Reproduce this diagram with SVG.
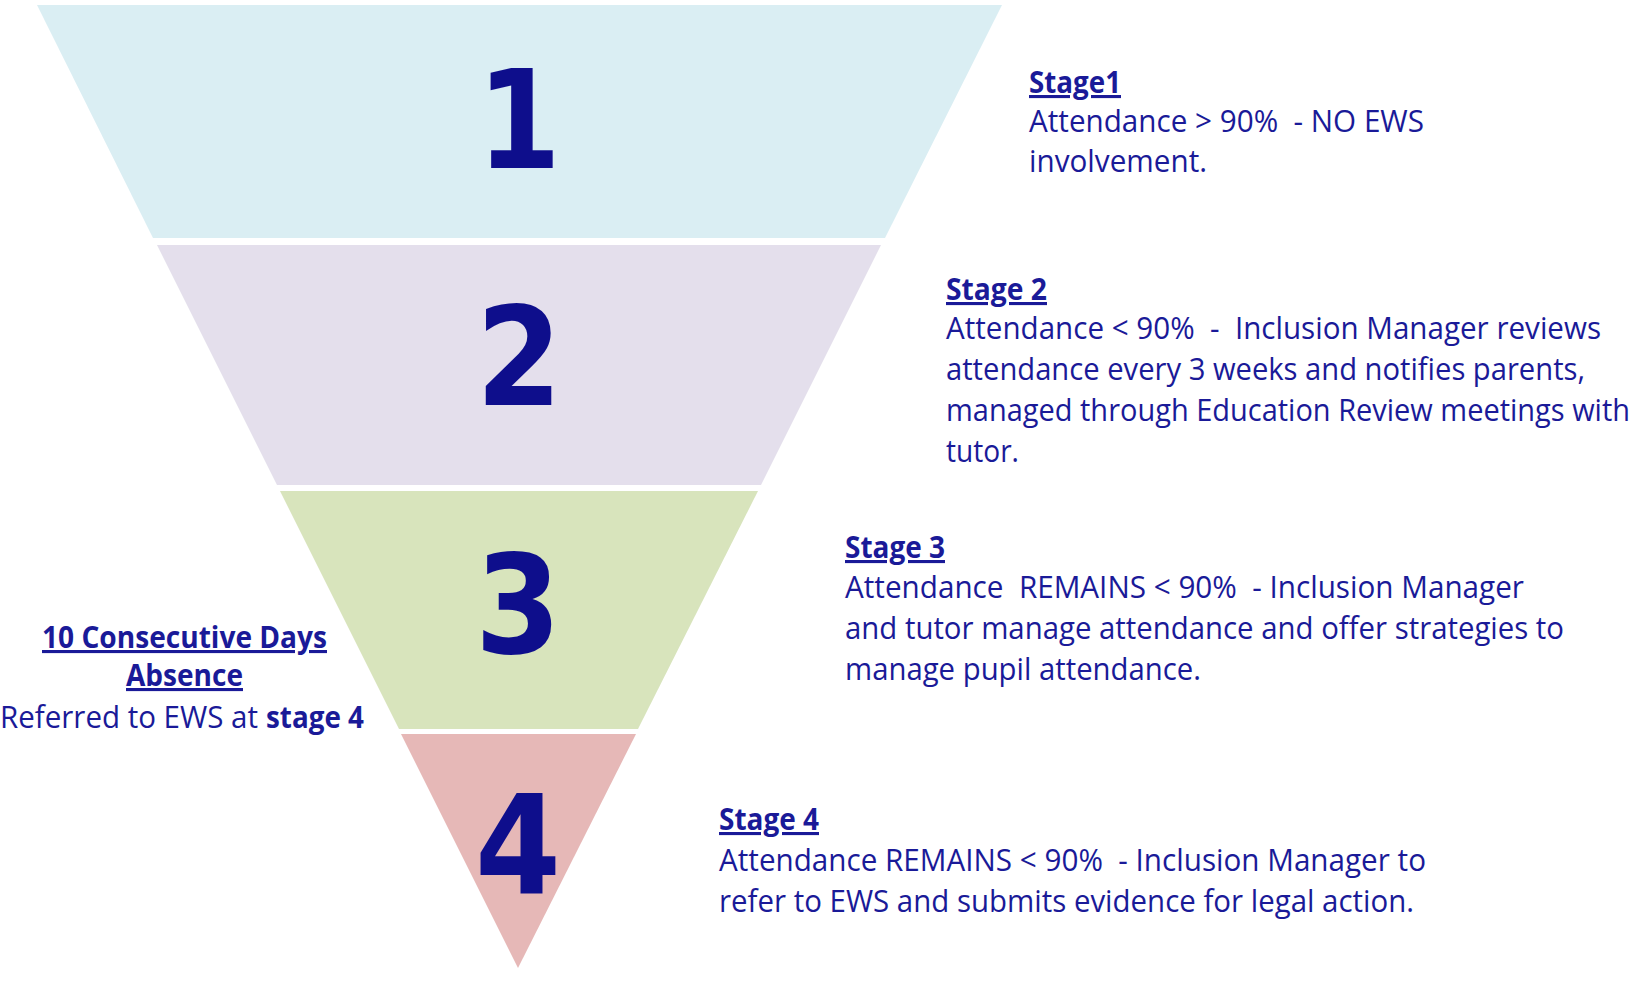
<svg xmlns="http://www.w3.org/2000/svg" width="1648" height="981" viewBox="0 0 1648 981">
<style>
.num{font-family:"DejaVu Sans","Liberation Sans",sans-serif;font-weight:bold;font-size:137px;fill:#0E0E8C;text-anchor:middle}
.t{font-family:"Open Sans","Noto Sans","Liberation Sans",sans-serif;font-size:31px;fill:#1A1A98;white-space:pre}
.h{font-weight:bold;text-decoration:underline}
</style>
<rect width="1648" height="981" fill="#FFFFFF"/>
<g id="stage1">
<polygon points="37,5 1002,5 885,238 153,238" fill="#DAEEF3"/>
<text class="num" x="519" y="168" textLength="84" lengthAdjust="spacingAndGlyphs">1</text>
</g>
<g id="stage2">
<polygon points="157,245 881,245 761,485 277,485" fill="#E4DFEC"/>
<text class="num" x="519" y="405" textLength="86" lengthAdjust="spacingAndGlyphs">2</text>
</g>
<g id="stage3">
<polygon points="280,491 758,491 638,729 399,729" fill="#D8E4BC"/>
<text class="num" x="518" y="653" textLength="86" lengthAdjust="spacingAndGlyphs">3</text>
</g>
<g id="stage4">
<polygon points="401,734 636,734 518,968" fill="#E6B8B7"/>
<text class="num" x="518" y="893" textLength="86" lengthAdjust="spacingAndGlyphs">4</text>
</g>
<g id="desc1">
<text class="t h" x="1029" y="93" textLength="92" lengthAdjust="spacingAndGlyphs">Stage1</text>
<text class="t" x="1029" y="132" textLength="395" lengthAdjust="spacingAndGlyphs">Attendance &gt; 90%  - NO EWS</text>
<text class="t" x="1029" y="172" textLength="178" lengthAdjust="spacingAndGlyphs">involvement.</text>
</g>
<g id="desc2">
<text class="t h" x="946" y="300" textLength="101" lengthAdjust="spacingAndGlyphs">Stage 2</text>
<text class="t" x="946" y="339" textLength="655" lengthAdjust="spacingAndGlyphs">Attendance &lt; 90%  -  Inclusion Manager reviews</text>
<text class="t" x="946" y="380" textLength="639" lengthAdjust="spacingAndGlyphs">attendance every 3 weeks and notifies parents,</text>
<text class="t" transform="translate(946,421) scale(0.9,1)" x="0" y="0" textLength="760" lengthAdjust="spacingAndGlyphs">managed through Education Review meetings with</text>
<text class="t" x="946" y="462" textLength="73" lengthAdjust="spacingAndGlyphs">tutor.</text>
</g>
<g id="desc3">
<text class="t h" x="845" y="558" textLength="100" lengthAdjust="spacingAndGlyphs">Stage 3</text>
<text class="t" x="845" y="598" textLength="679" lengthAdjust="spacingAndGlyphs">Attendance  REMAINS &lt; 90%  - Inclusion Manager</text>
<text class="t" x="845" y="639" textLength="719" lengthAdjust="spacingAndGlyphs">and tutor manage attendance and offer strategies to</text>
<text class="t" x="845" y="680" textLength="356" lengthAdjust="spacingAndGlyphs">manage pupil attendance.</text>
</g>
<g id="desc4">
<text class="t h" x="719" y="830" textLength="100" lengthAdjust="spacingAndGlyphs">Stage 4</text>
<text class="t" x="719" y="871" textLength="707" lengthAdjust="spacingAndGlyphs">Attendance REMAINS &lt; 90%  - Inclusion Manager to</text>
<text class="t" x="719" y="912" textLength="695" lengthAdjust="spacingAndGlyphs">refer to EWS and submits evidence for legal action.</text>
</g>
<g id="absence-note">
<text class="t h" x="42" y="648" textLength="285" lengthAdjust="spacingAndGlyphs">10 Consecutive Days</text>
<text class="t h" x="126" y="686" textLength="117" lengthAdjust="spacingAndGlyphs">Absence</text>
<text class="t" x="0" y="728" textLength="258" lengthAdjust="spacingAndGlyphs">Referred to EWS at</text>
<text class="t" x="266" y="728" textLength="98" lengthAdjust="spacingAndGlyphs" font-weight="bold">stage 4</text>
</g>
</svg>
